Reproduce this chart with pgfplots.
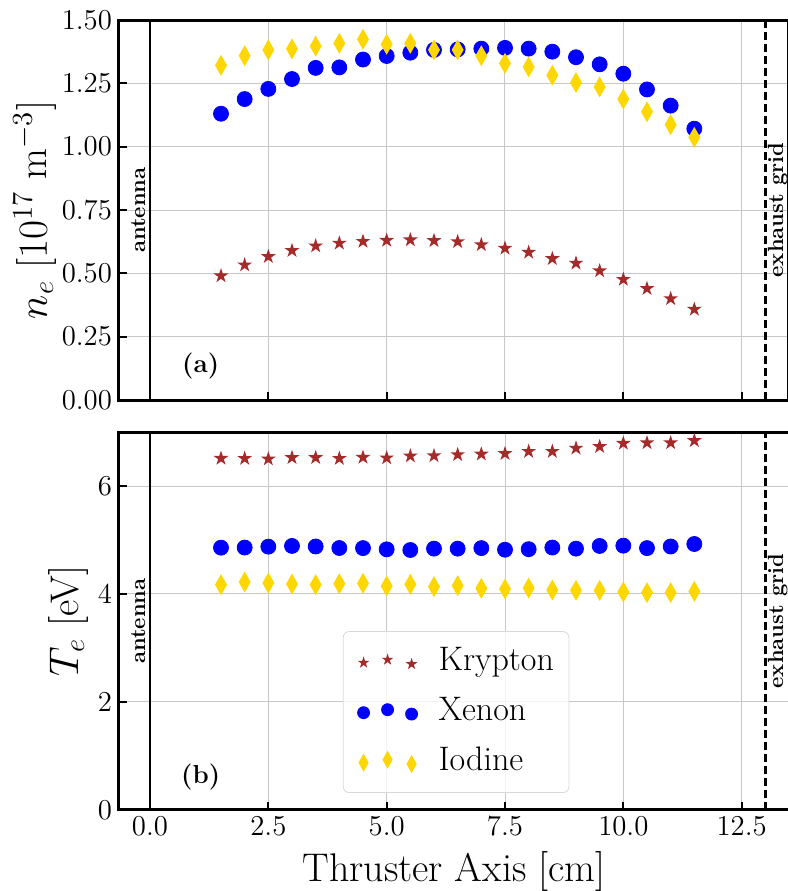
\documentclass[border=0pt]{standalone}
\usepackage{pgfplots}
\pgfplotsset{compat=1.18}
\definecolor{kr}{HTML}{A52A2A}
\definecolor{xe}{HTML}{0000FF}
\definecolor{io}{HTML}{FFD700}

\pgfdeclareplotmark{fstar}{%
  \pgfpathmoveto{\pgfpointpolar{90}{\pgfplotmarksize}}%
  \pgfpathlineto{\pgfpointpolar{126}{0.382\pgfplotmarksize}}%
  \pgfpathlineto{\pgfpointpolar{162}{\pgfplotmarksize}}%
  \pgfpathlineto{\pgfpointpolar{198}{0.382\pgfplotmarksize}}%
  \pgfpathlineto{\pgfpointpolar{234}{\pgfplotmarksize}}%
  \pgfpathlineto{\pgfpointpolar{270}{0.382\pgfplotmarksize}}%
  \pgfpathlineto{\pgfpointpolar{306}{\pgfplotmarksize}}%
  \pgfpathlineto{\pgfpointpolar{342}{0.382\pgfplotmarksize}}%
  \pgfpathlineto{\pgfpointpolar{18}{\pgfplotmarksize}}%
  \pgfpathlineto{\pgfpointpolar{54}{0.382\pgfplotmarksize}}%
  \pgfpathclose\pgfusepathqfill}
\pgfdeclareplotmark{tdiamond}{%
  \pgfpathmoveto{\pgfqpoint{0pt}{\pgfplotmarksize}}%
  \pgfpathlineto{\pgfqpoint{0.57\pgfplotmarksize}{0pt}}%
  \pgfpathlineto{\pgfqpoint{0pt}{-\pgfplotmarksize}}%
  \pgfpathlineto{\pgfqpoint{-0.57\pgfplotmarksize}{0pt}}%
  \pgfpathclose\pgfusepathqfill}

\pgfplotsset{
  common/.style={
    scale only axis, width=335pt,
    xmin=-0.655, xmax=13.5,
    axis line style={line width=1.5pt},
    tick align=inside, xtick pos=bottom, ytick pos=left,
    major tick length=4pt,
    tick style={line width=1pt, black},
    grid=major, grid style={line width=0.5pt, color=black!22},
    xtick={0,2.5,5,7.5,10,12.5},
    tick label style={font=\fontsize{14}{16}\selectfont},
    every axis x label/.style={at={(axis description cs:0.5,0)}, anchor=center, yshift=-31pt, font=\fontsize{20}{24}\selectfont},
  },
  myleg/.style={legend image code/.code={%
    \path (-4.5pt,0pt);
    \draw[##1] plot coordinates {(0pt,-0.3pt) (12pt,1.2pt) (24pt,-1pt)};}},
}

\begin{document}
\begin{tikzpicture}
\begin{axis}[common, name=top, at={(0,0)}, anchor=south west,
  height=190pt, ymin=0, ymax=1.5,
  ytick={0,0.25,0.5,0.75,1,1.25,1.5},
  yticklabel style={/pgf/number format/.cd, fixed, fixed zerofill, precision=2},
  xticklabels={},
  ylabel={$n_e$ [$10^{17}$ m$^{-3}$]},
  every axis y label/.style={at={(axis description cs:-0.1254,0.5)}, rotate=90, anchor=center, font=\fontsize{20}{24}\selectfont},
]
\draw[line width=1.2pt] (axis cs:0,0) -- (axis cs:0,1.5);
\draw[line width=1.2pt, dash pattern=on 4pt off 2pt] (axis cs:13,0) -- (axis cs:13,1.5);
\addplot[only marks, color=kr, mark=fstar, mark size=3.9pt] coordinates {
(1.5,0.490) (2.0,0.533) (2.5,0.566) (3.0,0.590) (3.5,0.608) (4.0,0.619) (4.5,0.626)
(5.0,0.630) (5.5,0.632) (6.0,0.629) (6.5,0.625) (7.0,0.613) (7.5,0.599) (8.0,0.583)
(8.5,0.558) (9.0,0.540) (9.5,0.510) (10.0,0.476) (10.5,0.440) (11.0,0.400) (11.5,0.358)};
\addplot[only marks, color=xe, mark=*, mark size=3.75pt] coordinates {
(1.5,1.130) (2.0,1.188) (2.5,1.228) (3.0,1.267) (3.5,1.311) (4.0,1.313) (4.5,1.344)
(5.0,1.358) (5.5,1.371) (6.0,1.382) (6.5,1.384) (7.0,1.387) (7.5,1.390) (8.0,1.387)
(8.5,1.375) (9.0,1.353) (9.5,1.325) (10.0,1.288) (10.5,1.226) (11.0,1.162) (11.5,1.071)};
\addplot[only marks, color=io, mark=tdiamond, mark size=5.25pt] coordinates {
(1.5,1.321) (2.0,1.359) (2.5,1.382) (3.0,1.386) (3.5,1.397) (4.0,1.408) (4.5,1.424)
(5.0,1.404) (5.5,1.408) (6.0,1.382) (6.5,1.382) (7.0,1.359) (7.5,1.329) (8.0,1.315)
(8.5,1.282) (9.0,1.253) (9.5,1.236) (10.0,1.188) (10.5,1.138) (11.0,1.087) (11.5,1.037)};
\node[rotate=90, font=\bfseries\fontsize{11}{13}\selectfont] at (axis cs:-0.25,0.75) {antenna};
\node[rotate=90, font=\bfseries\fontsize{11}{13}\selectfont] at (axis cs:13.26,0.75) {exhaust grid};
\node[font=\bfseries\fontsize{13}{15}\selectfont] at (axis cs:1.07,0.135) {(a)};
\end{axis}

\begin{axis}[common, name=bot, at={(0pt,-16pt)}, anchor=north west,
  height=189pt, ymin=0, ymax=7,
  ytick={0,2,4,6},
  xticklabel style={/pgf/number format/.cd, fixed, fixed zerofill, precision=1},
  xlabel={Thruster Axis [cm]},
  ylabel={$T_e$ [eV]},
  every axis y label/.style={at={(axis description cs:-0.0761,0.5)}, rotate=90, anchor=center, font=\fontsize{20}{24}\selectfont},
  legend style={at={(rel axis cs:0.334,0.045)}, anchor=south west,
    draw=black!15, rounded corners=3pt, fill=white, fill opacity=0.8, draw opacity=1, text opacity=1,
    font=\fontsize{17}{20}\selectfont, inner xsep=5.5pt, inner ysep=2.75pt,
    nodes={inner xsep=2pt, inner ysep=4.5pt, text height=12pt, text depth=4pt},
    /tikz/every odd column/.append style={column sep=8.5pt}},
  legend cell align=left,
]
\draw[line width=1.2pt] (axis cs:0,0) -- (axis cs:0,7);
\draw[line width=1.2pt, dash pattern=on 4pt off 2pt] (axis cs:13,0) -- (axis cs:13,7);
\addplot[only marks, color=kr, mark=fstar, mark size=3.9pt, myleg, legend image post style={mark size=3.1pt, fill opacity=1}] coordinates {
(1.5,6.512) (2.0,6.51) (2.5,6.50) (3.0,6.525) (3.5,6.525) (4.0,6.51) (4.5,6.53)
(5.0,6.52) (5.5,6.556) (6.0,6.56) (6.5,6.58) (7.0,6.59) (7.5,6.60) (8.0,6.64)
(8.5,6.64) (9.0,6.70) (9.5,6.73) (10.0,6.79) (10.5,6.80) (11.0,6.80) (11.5,6.84)};
\addlegendentry{Krypton}
\addplot[only marks, color=xe, mark=*, mark size=3.75pt, myleg, legend image post style={mark size=3pt, fill opacity=1}] coordinates {
(1.5,4.858) (2.0,4.86) (2.5,4.877) (3.0,4.89) (3.5,4.88) (4.0,4.852) (4.5,4.85)
(5.0,4.827) (5.5,4.815) (6.0,4.84) (6.5,4.84) (7.0,4.85) (7.5,4.82) (8.0,4.83)
(8.5,4.86) (9.0,4.84) (9.5,4.89) (10.0,4.895) (10.5,4.85) (11.0,4.88) (11.5,4.926)};
\addlegendentry{Xenon}
\addplot[only marks, color=io, mark=tdiamond, mark size=5.25pt, myleg, legend image post style={mark size=4.5pt, fill opacity=1}] coordinates {
(1.5,4.173) (2.0,4.222) (2.5,4.204) (3.0,4.185) (3.5,4.173) (4.0,4.19) (4.5,4.198)
(5.0,4.148) (5.5,4.18) (6.0,4.136) (6.5,4.154) (7.0,4.105) (7.5,4.093) (8.0,4.11)
(8.5,4.074) (9.0,4.068) (9.5,4.068) (10.0,4.037) (10.5,4.025) (11.0,4.025) (11.5,4.049)};
\addlegendentry{Iodine}
\node[rotate=90, font=\bfseries\fontsize{11}{13}\selectfont] at (axis cs:-0.25,3.5) {antenna};
\node[rotate=90, font=\bfseries\fontsize{11}{13}\selectfont] at (axis cs:13.26,3.5) {exhaust grid};
\node[font=\bfseries\fontsize{13}{15}\selectfont] at (axis cs:1.07,0.61) {(b)};
\end{axis}
\pgfresetboundingbox
\path[use as bounding box] (-59.5pt,-245.5pt) rectangle (334.3pt,200pt);
\end{tikzpicture}
\end{document}
